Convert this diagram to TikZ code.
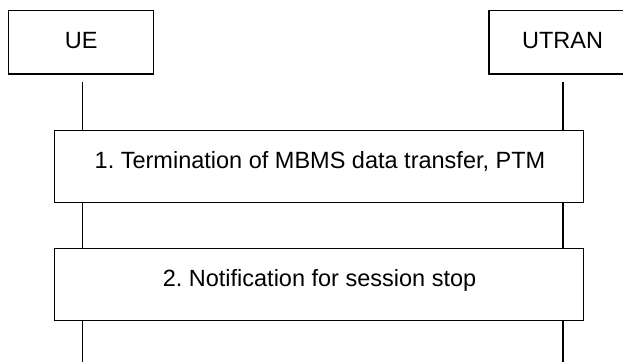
\documentclass[tikz,border=0pt]{standalone}
\usepackage{fontspec}
\setmainfont{Liberation Sans}
\frenchspacing
\begin{document}
\begin{tikzpicture}[x=1pt,y=1pt,
  entity/.style={draw,line width=1.3pt,rectangle,minimum width=144.7pt,minimum height=63.3pt,inner sep=0pt},
  stepbox/.style={draw,line width=1.3pt,rectangle,minimum width=528.4pt,minimum height=71.8pt,inner sep=0pt,fill=white},
  lbl/.style={anchor=base,inner sep=0pt,font=\fontsize{23.5}{28}\selectfont},
  life/.style={line width=1.2pt}]
\clip (0,0) rectangle (623,-362);
\fill[white] (0,0) rectangle (623,-362);
% entities
\node[entity] (ue) at (81.05,-42.35) {};
\node[entity] (utran) at (561.2,-42.35) {};
\node[lbl] (uet) at (81.2,-48.3) {UE};
\node[lbl] (utrant) at (562.5,-48.3) {UTRAN};
% steps
\node[stepbox] (m1) at (319,-166.5) {};
\node[stepbox] (m2) at (319,-284.5) {};
\node[lbl] (m1t) at (320,-168.3) {1.\ Termination of MBMS data transfer, PTM};
\node[lbl] (m2t) at (319.5,-286) {2.\ Notification for session stop};
% lifeline coordinates
\coordinate (ueA) at (82.8,-82.3);
\coordinate (utA) at (563,-82.3);
\coordinate (ueZ) at (82.8,-362);
\coordinate (utZ) at (563,-362);
% lifelines
\draw[life] (ueA) -- (ueA |- m1.north);
\draw[life] (utA) -- (utA |- m1.north);
\draw[life] (ueA |- m1.south) -- (ueA |- m2.north);
\draw[life] (utA |- m1.south) -- (utA |- m2.north);
\draw[life] (ueA |- m2.south) -- (ueZ);
\draw[life] (utA |- m2.south) -- (utZ);
\end{tikzpicture}
\end{document}
